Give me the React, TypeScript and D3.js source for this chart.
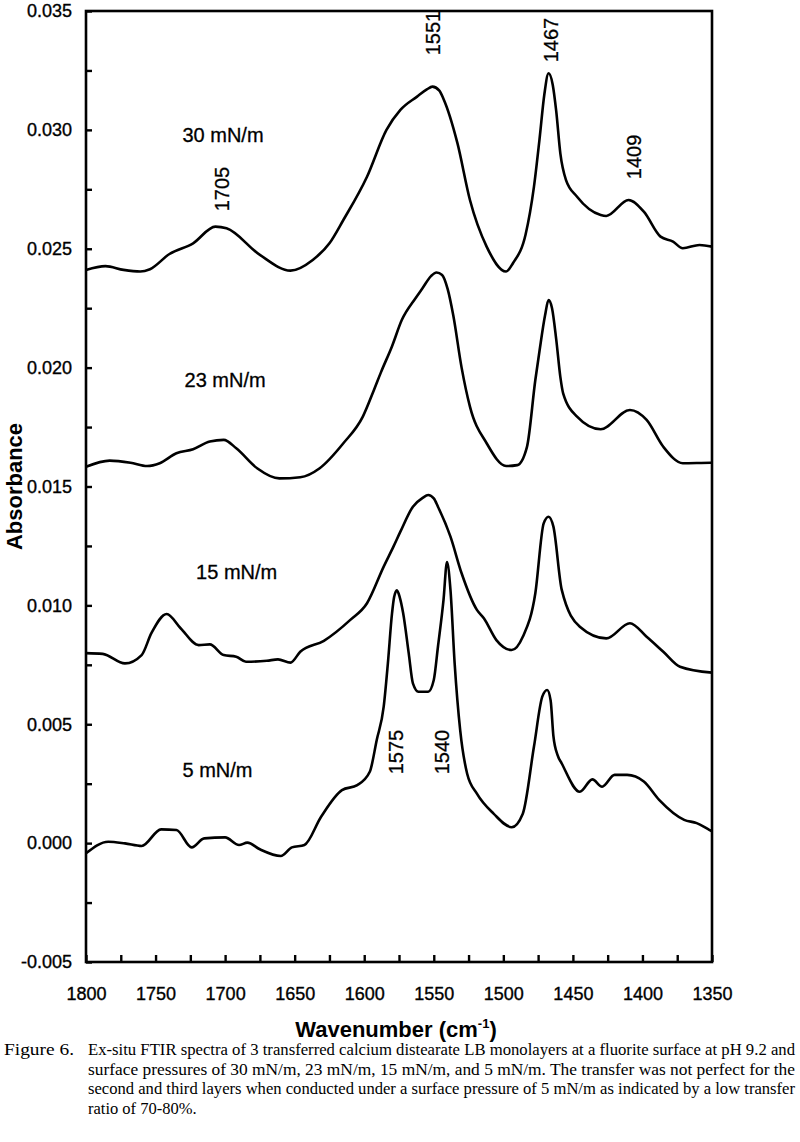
import React, { useEffect, useRef } from 'react';
import * as d3 from 'd3';

// ---------- data ----------
const xDomain: [number, number] = [1800, 1350];
const yDomain: [number, number] = [-0.005, 0.035];
const xTickValues = [1800, 1750, 1700, 1650, 1600, 1550, 1500, 1450, 1400, 1350];
const xMinorTickValues = [1775, 1725, 1675, 1625, 1575, 1525, 1475, 1425, 1375];
const yTickValues = [-0.005, 0, 0.005, 0.01, 0.015, 0.02, 0.025, 0.03, 0.035];
const yTickLabels = ['-0.005', '0.000', '0.005', '0.010', '0.015', '0.020', '0.025', '0.030', '0.035'];
const yMinorTickValues = [-0.0025, 0.0025, 0.0075, 0.0125, 0.0175, 0.0225, 0.0275, 0.0325];

const spectrum30: [number, number][] = [
  [1800, 0.02411], [1786, 0.02427], [1773, 0.02411], [1761, 0.02404], [1754, 0.02414],
  [1740, 0.02478], [1723, 0.02523], [1707, 0.02593], [1699, 0.02586], [1675, 0.02474],
  [1653, 0.02408], [1637, 0.02453], [1625, 0.02523], [1615, 0.02621], [1598, 0.02803],
  [1584, 0.03000], [1574, 0.03084], [1562, 0.03140], [1555, 0.03170], [1551, 0.03182],
  [1546, 0.03165], [1543, 0.03130], [1533, 0.02944], [1524, 0.02705], [1512, 0.02509],
  [1498, 0.02404], [1493, 0.02440], [1484, 0.02560], [1478, 0.02760], [1474, 0.02960],
  [1470.5, 0.03150], [1467.5, 0.03238], [1464.5, 0.03190], [1462, 0.03080], [1459, 0.02900],
  [1455, 0.02790], [1447, 0.02719], [1430, 0.02642], [1426, 0.02638], [1410, 0.02705],
  [1399, 0.02656], [1387, 0.02551], [1378, 0.02530], [1371, 0.02502], [1359, 0.02516],
  [1350, 0.02509],
];

const spectrum23: [number, number][] = [
  [1800, 0.01583], [1783, 0.01609], [1768, 0.01600], [1756, 0.01586], [1747, 0.01598],
  [1735, 0.01640], [1723, 0.01657], [1711, 0.01689], [1701, 0.01696], [1692, 0.01661],
  [1677, 0.01577], [1661, 0.01534], [1646, 0.01539], [1632, 0.01577], [1615, 0.01682],
  [1601, 0.01794], [1593, 0.01906], [1588, 0.01980], [1580, 0.02090], [1573, 0.02200],
  [1563, 0.02293], [1558, 0.02335], [1552, 0.02385], [1548, 0.02400], [1544, 0.02390],
  [1540, 0.02330], [1536, 0.02220], [1530, 0.02000], [1524, 0.01836], [1512, 0.01682],
  [1498, 0.01586], [1490, 0.01590], [1483, 0.01667], [1477, 0.01948], [1474, 0.02070],
  [1470, 0.02220], [1467.5, 0.02284], [1465, 0.02250], [1462, 0.02120], [1459, 0.01960],
  [1457, 0.01892], [1447, 0.01794], [1430, 0.01741], [1409, 0.01822], [1397, 0.01780],
  [1385, 0.01667], [1371, 0.01598], [1351, 0.01600], [1350, 0.01600],
];

const spectrum15: [number, number][] = [
  [1800, 0.00799], [1788, 0.00796], [1772, 0.00756], [1760, 0.00791], [1753, 0.00883],
  [1742, 0.00964], [1732, 0.00904], [1719, 0.00833], [1711, 0.00836], [1701, 0.00791],
  [1692, 0.00784], [1685, 0.00763], [1670, 0.00767], [1662, 0.00773], [1653, 0.00759],
  [1646, 0.00805], [1629, 0.00851], [1610, 0.00939], [1598, 0.01009], [1586, 0.01163],
  [1579, 0.01247], [1574, 0.01310], [1565, 0.01415], [1558, 0.01452], [1554, 0.01464],
  [1550, 0.01450], [1547, 0.01415], [1538, 0.01289], [1530, 0.01135], [1519, 0.00981],
  [1514, 0.00946], [1505, 0.00854], [1494, 0.00812], [1486, 0.00868], [1477, 0.01051],
  [1471, 0.01345], [1467.5, 0.01373], [1464, 0.01331], [1458, 0.01065], [1445, 0.00910],
  [1426, 0.00861], [1409, 0.00925], [1397, 0.00868], [1385, 0.00805], [1373, 0.00742],
  [1350, 0.00717],
];

const spectrum5: [number, number][] = [
  [1800, -0.00043], [1784, 0.00006], [1772, -0.00001], [1760, -0.00012], [1746, 0.00058],
  [1735, 0.00055], [1724, -0.00018], [1715, 0.0002], [1700, 0.00024], [1690, -0.00008],
  [1684, 0.00002], [1675, -0.00026], [1660, -0.00054], [1652, -0.00018], [1643, -0.00008],
  [1631, 0.00111], [1616, 0.00223], [1605, 0.00244], [1596, 0.00300], [1591, 0.00434],
  [1586, 0.00574], [1583, 0.00756], [1580, 0.00967], [1578.5, 0.01035], [1576.5, 0.01063],
  [1574.5, 0.01035], [1572, 0.00967], [1568, 0.00798], [1565, 0.00672], [1561, 0.00637],
  [1554, 0.00637], [1550, 0.00686], [1547, 0.00826], [1543, 0.01023], [1540.5, 0.01182],
  [1538, 0.01065], [1535, 0.00756], [1531, 0.00474], [1526, 0.00292], [1519, 0.00208],
  [1507, 0.00124], [1494, 0.00067], [1486, 0.00124], [1478, 0.00405], [1472, 0.00616],
  [1468.5, 0.00644], [1466, 0.00600], [1464, 0.00450], [1461, 0.00370], [1458, 0.00335],
  [1445, 0.00216], [1436, 0.00268], [1429, 0.00237], [1420, 0.00287], [1411, 0.00287],
  [1399, 0.00259], [1388, 0.00182], [1370, 0.00098], [1361, 0.00084], [1352, 0.00056],
  [1350, 0.00050],
];

const seriesList = [spectrum30, spectrum23, spectrum15, spectrum5];

// series name labels (label centre in data units)
const seriesLabelText = ['30 mN/m', '23 mN/m', '15 mN/m', '5 mN/m'];
const seriesLabelWn = [1701.5, 1700, 1691.7, 1705.5];
const seriesLabelAbs = [0.0298, 0.01948, 0.01142, 0.00308];

// peak annotations (rotated)
const peakText = ['1705', '1551', '1467', '1409', '1575', '1540'];
const peakWn = [1702.2, 1550.5, 1465.7, 1406.0, 1577.1, 1544.1];
const peakAbs = [0.02751, 0.03407, 0.03378, 0.02886, 0.00383, 0.00383];

const captionFirst = 'Figure 6.';
const captionLines = [
  'Ex-situ FTIR spectra of 3 transferred calcium distearate LB monolayers at a fluorite surface at pH 9.2 and',
  'surface pressures of 30 mN/m, 23 mN/m, 15 mN/m, and 5 mN/m. The transfer was not perfect for the',
  'second and third layers when conducted under a surface pressure of 5 mN/m as indicated by a low transfer',
  'ratio of 70-80%.',
];

// ---------- layout ----------
const W = 800;
const H = 1142;
const plot = { left: 86, right: 712, top: 11, bottom: 962 };
const SANS = 'Arial, "Liberation Sans", Helvetica, sans-serif';
const SERIF = '"Times New Roman", "Liberation Serif", Times, serif';

export default function App() {
  const ref = useRef<SVGSVGElement>(null);

  useEffect(() => {
    const svg = d3.select(ref.current);
    svg.selectAll('*').remove();

    const x = d3.scaleLinear().domain(xDomain).range([plot.left, plot.right]);
    const y = d3.scaleLinear().domain(yDomain).range([plot.bottom, plot.top]);

    svg.append('rect').attr('width', W).attr('height', H).attr('fill', '#fff');

    // spectra
    const line = d3
      .line<[number, number]>()
      .x((d) => x(d[0]))
      .y((d) => y(d[1]))
      .curve(d3.curveMonotoneX);

    svg
      .append('g')
      .selectAll('path')
      .data(seriesList)
      .join('path')
      .attr('d', (d) => line(d) as string)
      .attr('fill', 'none')
      .attr('stroke', '#000')
      .attr('stroke-width', 2.6)
      .attr('stroke-linejoin', 'round');

    // frame
    svg
      .append('rect')
      .attr('x', plot.left)
      .attr('y', plot.top)
      .attr('width', plot.right - plot.left)
      .attr('height', plot.bottom - plot.top)
      .attr('fill', 'none')
      .attr('stroke', '#000')
      .attr('stroke-width', 2.6);

    // y axis
    const yAxis = d3
      .axisLeft(y)
      .tickValues(yTickValues)
      .tickSize(-6)
      .tickPadding(14)
      .tickFormat((_d, i) => yTickLabels[i]);
    const gy = svg.append('g').attr('transform', `translate(${plot.left},0)`).call(yAxis);
    const yMinor = d3.axisLeft(y).tickValues(yMinorTickValues).tickSize(-6).tickFormat(() => '');
    const gy2 = svg.append('g').attr('transform', `translate(${plot.left},0)`).call(yMinor);

    // x axis
    const xAxis = d3
      .axisBottom(x)
      .tickValues(xTickValues)
      .tickSize(-7)
      .tickPadding(25)
      .tickFormat((d) => String(d));
    const gx = svg.append('g').attr('transform', `translate(0,${plot.bottom})`).call(xAxis);
    const xMinor = d3.axisBottom(x).tickValues(xMinorTickValues).tickSize(-7).tickFormat(() => '');
    const gx2 = svg.append('g').attr('transform', `translate(0,${plot.bottom})`).call(xMinor);

    [gy, gy2, gx, gx2].forEach((g) => {
      g.select('.domain').remove();
      g.selectAll('line').attr('stroke', '#000').attr('stroke-width', 2.4);
      g.selectAll('text')
        .attr('fill', '#000')
        .attr('stroke', '#000')
        .attr('stroke-width', 0.35)
        .attr('font-family', SANS)
        .attr('font-size', 18);
    });
    gx.selectAll('text').attr('dy', '0.71em');

    // axis titles
    svg
      .append('text')
      .attr('transform', `translate(22,${(plot.top + plot.bottom) / 2}) rotate(-90)`)
      .attr('text-anchor', 'middle')
      .attr('font-family', SANS)
      .attr('font-weight', 'bold')
      .attr('font-size', 22)
      .text('Absorbance');

    const xt = svg
      .append('text')
      .attr('x', 396)
      .attr('y', 1037)
      .attr('text-anchor', 'middle')
      .attr('font-family', SANS)
      .attr('font-weight', 'bold')
      .attr('font-size', 22);
    xt.append('tspan').text('Wavenumber (cm');
    xt.append('tspan').attr('font-size', 13).attr('dy', -9).text('-1');
    xt.append('tspan').attr('dy', 9).text(')');

    // series labels
    svg
      .append('g')
      .selectAll('text')
      .data(seriesLabelText)
      .join('text')
      .attr('x', (_d, i) => x(seriesLabelWn[i]))
      .attr('y', (_d, i) => y(seriesLabelAbs[i]))
      .attr('text-anchor', 'middle')
      .attr('dominant-baseline', 'central')
      .attr('font-family', SANS)
      .attr('font-size', 20)
      .attr('stroke', '#000')
      .attr('stroke-width', 0.3)
      .text((d) => d);

    // peak labels
    svg
      .append('g')
      .selectAll('text')
      .data(peakText)
      .join('text')
      .attr('transform', (_d, i) => `translate(${x(peakWn[i])},${y(peakAbs[i])}) rotate(-90)`)
      .attr('text-anchor', 'middle')
      .attr('dominant-baseline', 'central')
      .attr('font-family', SANS)
      .attr('font-size', 20)
      .attr('stroke', '#000')
      .attr('stroke-width', 0.3)
      .text((d) => d);

    // caption
    const cap = svg.append('g').attr('font-family', SERIF).attr('font-size', 16.5).attr('fill', '#000');
    cap
      .append('text')
      .attr('x', 4)
      .attr('y', 1055)
      .attr('textLength', 70)
      .attr('lengthAdjust', 'spacingAndGlyphs')
      .text(captionFirst);
    captionLines.forEach((t, i) => {
      const tx = cap
        .append('text')
        .attr('x', 88)
        .attr('y', 1055 + i * 19.7)
        .text(t);
      if (i < captionLines.length - 1) {
        tx.attr('textLength', 795 - 88).attr('lengthAdjust', 'spacingAndGlyphs');
      }
    });
  }, []);

  return (
    <svg
      ref={ref}
      width={W}
      height={H}
      style={{ position: 'absolute', left: 0, top: 0, display: 'block' }}
    />
  );
}
